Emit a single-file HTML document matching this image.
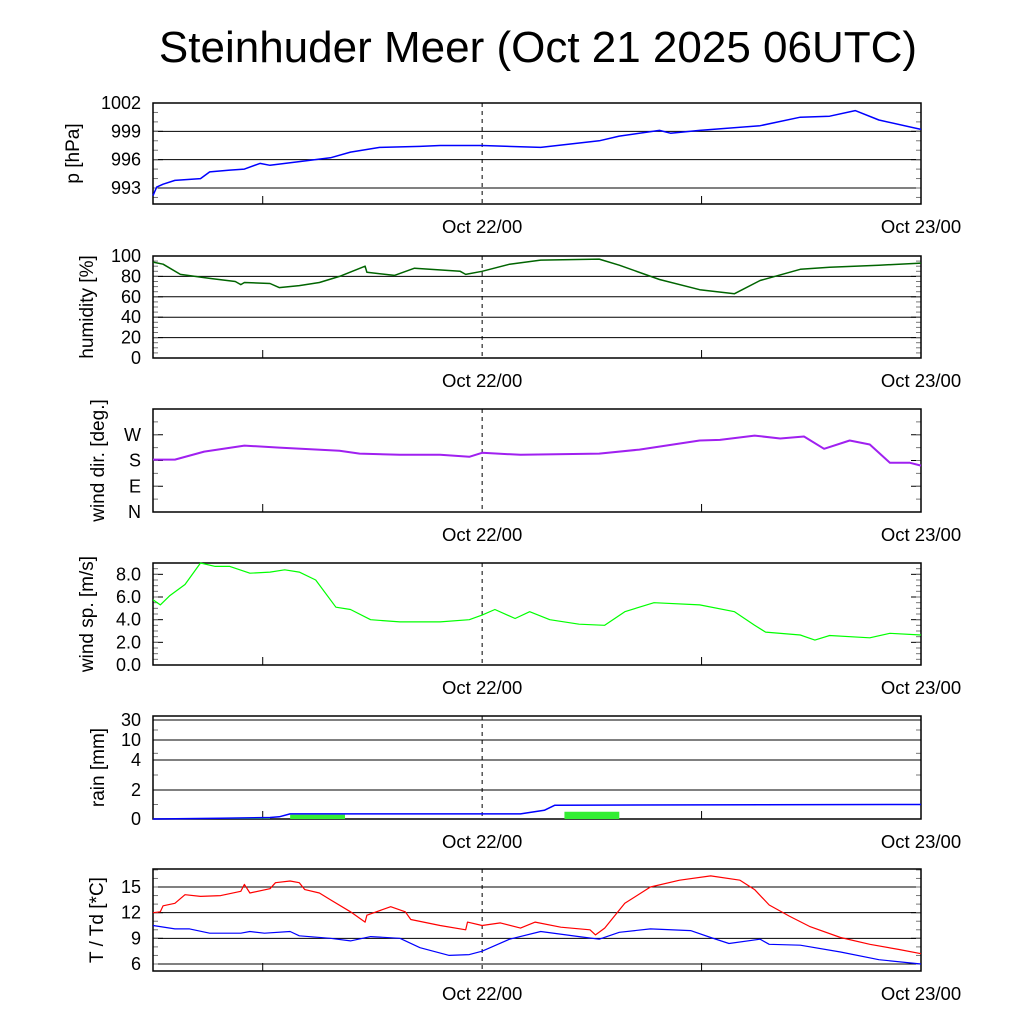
<!DOCTYPE html>
<html><head><meta charset="utf-8"><style>
html,body{margin:0;padding:0;background:#fff}
svg{display:block;font-family:"Liberation Sans",Arial,sans-serif}
</style></head><body>
<svg id="c" width="1024" height="1024">
<text x="538" y="62" font-size="44" text-anchor="middle">Steinhuder Meer (Oct 21 2025 06UTC)</text>
</svg>
<script>
// hours since Oct 21 06UTC
const pT=[0,0.2,0.55,1.2,2.6,3.1,4.2,5.0,5.85,6.4,8.0,9.7,10.8,12.4,14.6,15.7,18,21.2,24.4,25.5,27.7,28.3,29.9,33.2,35.4,37.0,38.4,39.7,42];
const pV=[992.2,993.1,993.4,993.8,994.0,994.7,994.9,995.0,995.6,995.4,995.8,996.2,996.8,997.3,997.4,997.5,997.5,997.3,998.0,998.5,999.1,998.8,999.1,999.6,1000.5,1000.6,1001.2,1000.2,999.2];
const hT=[0,0.55,1.5,3.1,4.5,4.8,5.0,6.4,6.9,8.0,9.1,10.2,11.6,11.7,13.2,14.3,16.8,17.1,18,19.5,21.2,24.4,25.5,27.7,29.9,31.8,33.2,35.4,37.0,39.7,42];
const hV=[94,92,82,78,75,72,74,73,69,71,74,80,90,84,81,88,85,82,85,92,96,97,91,77,67,63,76,87,89,91,93];
const dT=[0,1.2,2.8,5.0,6.9,10.2,11.3,13.5,15.7,17.3,18,20.1,24.4,26.6,29.9,31.0,32.9,34.3,35.6,36.7,38.1,39.2,40.3,41.4,42];
const dV=[183,183,211,232,225,214,204,200,200,193,207,200,204,218,250,252,267,257,264,221,250,236,172,172,162];
const sT=[0,0.4,0.9,1.75,2.6,3.4,4.2,5.3,6.4,7.2,8.0,8.9,10.0,10.8,11.9,13.5,15.7,17.3,18,18.7,19.8,20.6,21.7,23.3,24.7,25.8,27.4,29.9,31.8,32.9,33.5,35.4,36.2,37.0,39.2,40.3,42];
const sV=[5.75,5.3,6.1,7.1,9.0,8.7,8.7,8.1,8.2,8.4,8.2,7.5,5.1,4.9,4.0,3.8,3.8,4.0,4.4,4.9,4.1,4.7,4.0,3.6,3.5,4.7,5.5,5.3,4.7,3.5,2.9,2.65,2.2,2.6,2.4,2.8,2.65];
const rT=[0,3.7,6.4,6.9,7.5,20.1,21.4,21.98,42];
const rV=[0,0.05,0.1,0.15,0.35,0.35,0.6,0.95,1.0];
const barStart=[1.75,7.5,22.5];
const barEnd=[6.4,10.5,25.5];
const barVal=[0.03,0.3,0.5];
const tT=[0,0.4,0.55,1.2,1.75,2.6,3.7,4.8,5.0,5.3,6.4,6.7,7.5,8.0,8.3,9.1,9.7,10.8,11.6,11.7,13.0,13.8,14.1,15.7,17.1,17.2,18,19.0,20.1,20.9,22.3,23.9,24.2,24.7,25.8,27.2,28.8,30.5,32.1,32.9,33.7,34.8,35.9,37.6,39.2,40.8,42];
const tV=[12,12.1,12.8,13.1,14.1,13.9,14.0,14.5,15.3,14.3,14.8,15.5,15.7,15.5,14.7,14.3,13.5,12.1,10.9,11.7,12.7,12.1,11.2,10.5,10.0,10.9,10.5,10.8,10.2,10.9,10.3,10.0,9.4,10.2,13.1,15.0,15.8,16.3,15.8,14.7,12.9,11.6,10.4,9.1,8.3,7.7,7.2];
const tdT=[0,1.2,2.0,3.1,4.8,5.3,6.1,7.5,8.0,9.7,10.8,11.9,13.5,14.6,16.2,17.3,18,19.5,21.2,23.3,24.4,25.5,27.2,29.4,30.5,31.5,33.2,33.7,35.4,37.6,39.7,42];
const tdV=[10.5,10.1,10.1,9.6,9.6,9.8,9.6,9.8,9.3,9.0,8.7,9.2,9.0,7.9,7.0,7.1,7.5,8.9,9.8,9.2,8.9,9.7,10.1,9.9,9.1,8.4,8.9,8.3,8.2,7.4,6.5,6.0];
const xTickLabels=["Oct 22/00","Oct 23/00"];
const xTickHours=[18,42];

const svg=document.getElementById('c');
const NS='http://www.w3.org/2000/svg';
const X0=153,X1=921,H0=0,H1=42;
const xs=h=>X0+(h-H0)/(H1-H0)*(X1-X0);
function el(t,a,p){const e=document.createElementNS(NS,t);for(const k in a)e.setAttribute(k,a[k]);(p||svg).appendChild(e);return e;}
function lin(d0,d1,y0,y1){return v=>y0+(v-d0)/(d1-d0)*(y1-y0);}
function pwl(dom,rng){return v=>{for(let i=0;i<dom.length-1;i++){if(v<=dom[i+1]||i==dom.length-2){return rng[i]+(v-dom[i])/(dom[i+1]-dom[i])*(rng[i+1]-rng[i]);}}};}

function panel(name,top,bot,ys,ticks,labels,grid,minor,title,tx){
  const g=el('g',{});
  
  
  ticks.forEach((v,i)=>{
    const y=ys(v);
    if(grid){const l=el('line',{x1:X0,x2:X1,y1:y,y2:y,stroke:'#000','stroke-width':1},g);}
    const t=el('text',{x:141,y:y+6,'font-size':18,'text-anchor':'end'},g);t.textContent=labels[i];
    
    el('line',{x1:X0,x2:X0+10,y1:y,y2:y,stroke:'#000'},g);el('line',{x1:X1,x2:X1-10,y1:y,y2:y,stroke:'#000'},g);
  });
  minor.forEach(v=>{const y=ys(v);if(y<top||y>bot)return;el('line',{x1:X0,x2:X0+5,y1:y,y2:y,stroke:'#777'},g);el('line',{x1:X1,x2:X1-5,y1:y,y2:y,stroke:'#777'},g);});
  el('line',{x1:xs(18),x2:xs(18),y1:top,y2:bot,stroke:'#000','stroke-dasharray':'4,4'},g);
  [6,30].forEach(h=>el('line',{x1:xs(h),x2:xs(h),y1:bot,y2:bot-8,stroke:'#000'},g));
  xTickHours.forEach((h,i)=>{const t=el('text',{x:xs(h),y:bot+29,'font-size':18.5,'text-anchor':'middle'},g);t.textContent=xTickLabels[i];
    });
  const r=el('rect',{x:X0,y:top,width:X1-X0,height:bot-top,fill:'none',stroke:'#000','stroke-width':1.5},g);
  
  const cy=(top+bot)/2;
  const tt=el('text',{x:0,y:0,'font-size':19,'text-anchor':'middle',transform:`translate(${tx},${cy}) rotate(-90)`},g);
  tt.textContent=title;
  return g;
}
function line(T,V,ys,color,name,w){
  const d=T.map((h,i)=>(i?'L':'M')+xs(h).toFixed(1)+','+ys(V[i]).toFixed(1)).join('');
  const p=el('path',{d,fill:'none',stroke:color,'stroke-width':w||1.5,'stroke-linejoin':'round'});
  
}
function range(a,b,s){const r=[];for(let v=a;v<=b+1e-9;v+=s)r.push(v);return r;}

let ys=lin(993,1002,188,103);
panel('pressure',103,204,ys,[993,996,999,1002],['993','996','999','1002'],true,range(992,1002,1),'p [hPa]',79);
line(pT,pV,ys,'#0000ff','pressure-line');
ys=lin(0,100,358,256);
panel('humidity',256,358,ys,[0,20,40,60,80,100],['0','20','40','60','80','100'],true,range(0,100,5),'humidity [%]',93);
line(hT,hV,ys,'#006400','humidity-line');
ys=lin(0,360,512,409);
panel('wind-direction',409,512,ys,[0,90,180,270],['N','E','S','W'],false,range(0,360,45),'wind dir. [deg.]',104);
line(dT,dV,ys,'#a020f0','wind-direction-line',2);
ys=lin(0,9,665,563);
panel('wind-speed',563,665,ys,[0,2,4,6,8],['0.0','2.0','4.0','6.0','8.0'],false,range(0,9,0.5),'wind sp. [m/s]',93);
line(sT,sV,ys,'#00ff00','wind-speed-line',1.2);
ys=pwl([0,2,4,10,30,60],[819,790,760,740,720,716]);
panel('rain',716,819,ys,[0,2,4,10,30],['0','2','4','10','30'],true,[1,3,6,20],'rain [mm]',104);
barStart.forEach((s,i)=>{const y=ys(barVal[i]);const r=el('rect',{x:xs(s),y:y,width:xs(barEnd[i])-xs(s),height:819-y,fill:'#33ee33'});
  });
line(rT,rV,ys,'#0000ff','rain-accumulated-line');
ys=lin(6,15,964,887);
panel('temperature',869,971,ys,[6,9,12,15],['6','9','12','15'],true,range(5,17,1),'T / Td [*C]',103);
line(tT,tV,ys,'#ff0000','temperature-line',1.2);
line(tdT,tdV,ys,'#0000ff','dewpoint-line',1.2);
</script>
</body></html>
